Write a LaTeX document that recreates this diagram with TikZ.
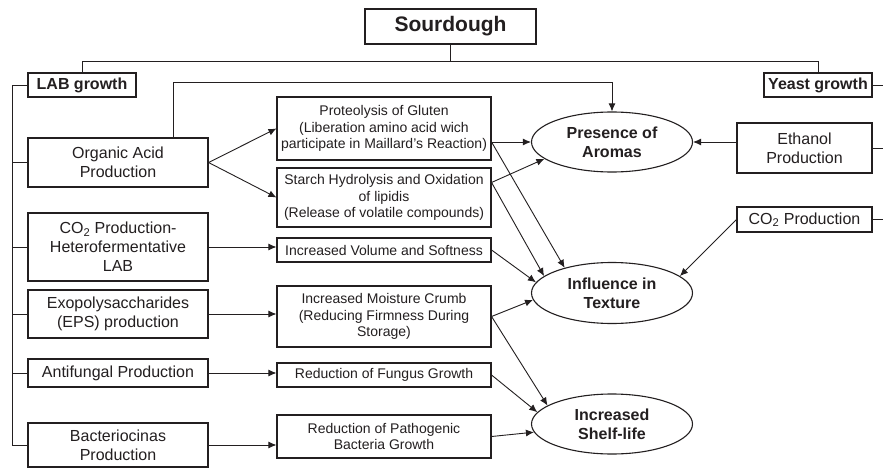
\documentclass[tikz,border=0pt]{standalone}
\usepackage{fontspec}
\setmainfont{Liberation Sans}
\usetikzlibrary{arrows.meta,shapes.geometric,calc}
\definecolor{ink}{HTML}{231F20}
\begin{document}
\begin{tikzpicture}[x=1pt,y=-1pt,
  every node/.style={text=ink},
  box/.style={draw=ink, line width=1.1pt, inner sep=0pt, align=center},
  sidebox/.style={box, minimum width=180pt, font=\fontsize{16}{19}\selectfont},
  midbox/.style={box, minimum width=214pt, font=\fontsize{14}{16.5}\selectfont},
  rbox/.style={box, minimum width=135pt, font=\fontsize{16}{19}\selectfont},
  headbox/.style={box, minimum width=108pt, minimum height=24pt, font=\bfseries\fontsize{16}{19}\selectfont},
  effect/.style={draw=ink, line width=1.1pt, ellipse, inner sep=0pt, minimum width=161pt, minimum height=60pt, align=center, font=\bfseries\fontsize{16}{19}\selectfont},
  link/.style={draw=ink, line width=0.9pt},
  arr/.style={link, -{Latex[length=8pt,width=7pt]}}
]
\fill[white] (0,0) rectangle (883,468);
\useasboundingbox (0,0) rectangle (883,468);

% root and the two growth branches
\node[box, minimum width=171pt, minimum height=35pt, font=\bfseries\fontsize{21}{24}\selectfont] (sour) at (450.5,26.5) {Sourdough};
\node[headbox] (lab) at (82,85) {LAB growth};
\node[headbox] (yeast) at (818,85) {Yeast growth};

% LAB products
\node[sidebox, minimum height=49pt] (org) at (118,162.5) {Organic Acid\\Production};
\node[sidebox, minimum height=68pt] (co2l) at (118,247) {CO\textsubscript{2} Production-\\Heterofermentative\\LAB};
\node[sidebox, minimum height=48pt] (eps) at (118,314) {Exopolysaccharides\\(EPS) production};
\node[sidebox, minimum height=28pt] (anti) at (118,373) {Antifungal Production};
\node[sidebox, minimum height=44pt] (bac) at (118,445) {Bacteriocinas\\Production};

% intermediate effects
\node[midbox, minimum height=63pt] (prot) at (384,128.5) {Proteolysis of Gluten\\(Liberation amino acid wich\\participate in Maillard's Reaction)};
\node[midbox, minimum height=59pt] (starch) at (384,197.5) {Starch Hydrolysis and Oxidation\\of lipidis\\(Release of volatile compounds)};
\node[midbox, minimum height=24pt] (vol) at (384,250) {Increased Volume and Softness};
\node[midbox, minimum height=61pt] (moist) at (384,316.5) {Increased Moisture Crumb\\(Reducing Firmness During\\Storage)};
\node[midbox, minimum height=24pt] (fung) at (384,375) {Reduction of Fungus Growth};
\node[midbox, minimum height=43pt] (path) at (384,436.5) {Reduction of Pathogenic\\Bacteria Growth};

% bread quality outcomes
\node[effect] (aromas) at (612,142) {Presence of\\Aromas};
\node[effect, minimum height=61pt] (texture) at (612,293) {Influence in\\Texture};
\node[effect] (shelf) at (612,424) {Increased\\Shelf-life};

% yeast products
\node[rbox, minimum height=50pt] (eth) at (804.5,148) {Ethanol\\Production};
\node[rbox, minimum height=25pt] (co2r) at (804.5,219.5) {CO\textsubscript{2} Production};

% routing helpers
\coordinate (bus) at (0,61);
\coordinate (trunk) at (12,0);
\coordinate (redge) at (884,0);
\coordinate (oa) at (173,0);
\coordinate (lvl) at (0,82);

% tree lines
\draw[link] (sour.south) -- (sour.south |- bus);
\draw[link] (lab.north) -- (lab.north |- bus) -- (yeast.north |- bus) -- (yeast.north);
\draw[link] (lab.west) -- (lab.west -| trunk) -- (bac.west -| trunk) -- (bac.west);
\foreach \n in {org,co2l,eps,anti}
  \draw[link] (\n.west -| trunk) -- (\n.west);
\foreach \n in {yeast,eth,co2r}
  \draw[link] (\n.east) -- (\n.east -| redge);

% LAB products to intermediate effects
\draw[arr] (oa |- org.north) -- (oa |- lvl) -- (aromas.north |- lvl) -- (aromas.north);
\draw[arr] (org.east) -- (prot.west);
\draw[arr] (org.east) -- (starch.west);
\draw[arr] (co2l.east) -- (co2l.east -| vol.west);
\draw[arr] (eps.east) -- (eps.east -| moist.west);
\draw[arr] (anti.east) -- (anti.east -| fung.west);
\draw[arr] (bac.east) -- (bac.east -| path.west);

% intermediate effects to outcomes
\coordinate (pout) at (prot.east |- aromas.west);
\coordinate (sout) at ($(starch.north east)!0.25!(starch.south east)$);
\draw[arr] (pout) -- (aromas.west);
\draw[arr] (pout) -- (texture.152);
\draw[arr] (sout) -- (aromas.194);
\draw[arr] (sout) -- (texture.166);
\draw[arr] (vol.east) -- (texture.172);
\draw[arr] (moist.east) -- (texture.185);
\draw[arr] (moist.east) -- (shelf.164);
\draw[arr] (fung.east) -- (shelf.171);
\draw[arr] (path.east) -- (shelf.186);

% yeast products to outcomes
\draw[arr] (eth.west |- aromas.east) -- (aromas.east);
\draw[arr] (co2r.west) -- (texture.14);
\end{tikzpicture}
\end{document}
